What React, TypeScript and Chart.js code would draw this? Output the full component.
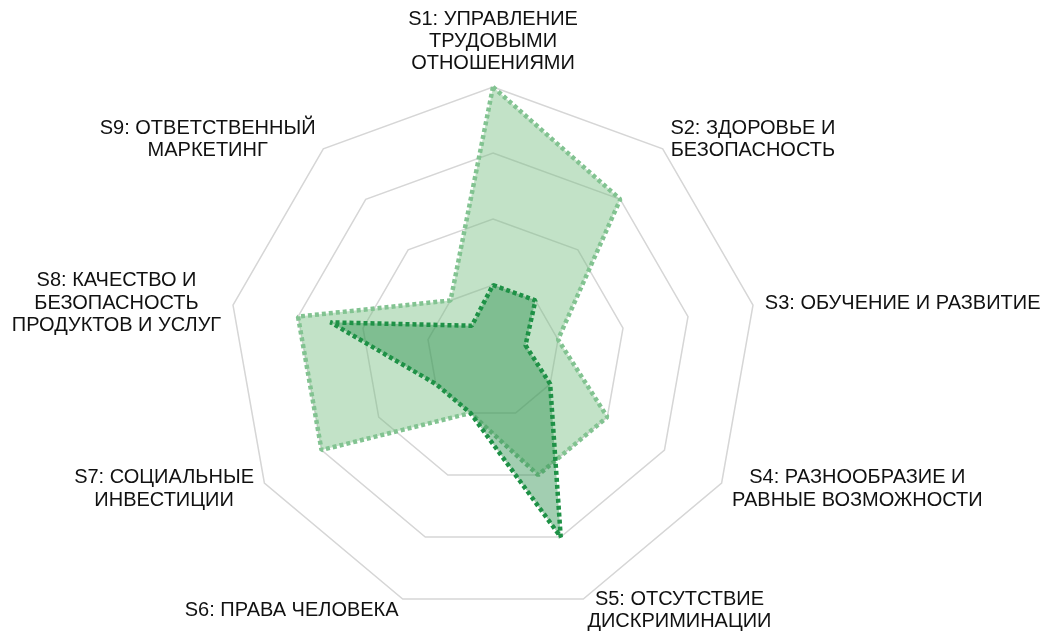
import React, { useEffect, useRef } from "react";
import { Chart, registerables } from "chart.js";

Chart.register(...registerables);

const categories: string[][] = [
  ["S1: УПРАВЛЕНИЕ", "ТРУДОВЫМИ", "ОТНОШЕНИЯМИ"],
  ["S2: ЗДОРОВЬЕ И", "БЕЗОПАСНОСТЬ"],
  ["S3: ОБУЧЕНИЕ И РАЗВИТИЕ"],
  ["S4: РАЗНООБРАЗИЕ И", "РАВНЫЕ ВОЗМОЖНОСТИ"],
  ["S5: ОТСУТСТВИЕ", "ДИСКРИМИНАЦИИ"],
  ["S6: ПРАВА ЧЕЛОВЕКА"],
  ["S7: СОЦИАЛЬНЫЕ", "ИНВЕСТИЦИИ"],
  ["S8: КАЧЕСТВО И", "БЕЗОПАСНОСТЬ", "ПРОДУКТОВ И УСЛУГ"],
  ["S9: ОТВЕТСТВЕННЫЙ", "МАРКЕТИНГ"],
];

const seriesLight: number[] = [4, 3, 1, 2, 2, 1, 3, 3, 1];
const seriesDark: number[] = [1, 1, 0.5, 1, 3, 1, 1, 2.5, 0.5];

const scaleMax = 4;
const scaleStep = 1;

const LABEL_FONT_SIZE = 20;
const LABEL_LINE_HEIGHT = 22.4;
const LABEL_GAP = 12;

const centeredLabels = {
  id: "centeredLabels",
  afterDraw(chart: any) {
    const scale = chart.scales.r;
    const ctx = chart.ctx as CanvasRenderingContext2D;
    const labels = chart.data.labels as (string | string[])[];
    ctx.save();
    ctx.font = `${LABEL_FONT_SIZE}px "Liberation Sans", Arial, sans-serif`;
    ctx.fillStyle = "#111111";
    ctx.textBaseline = "middle";
    ctx.textAlign = "center";
    labels.forEach((lab, i) => {
      const lines = Array.isArray(lab) ? lab : [lab];
      const pos = scale.getPointPosition(i, scale.drawingArea + LABEL_GAP);
      const cos = Math.cos(pos.angle);
      const sin = Math.sin(pos.angle);
      const w = Math.max(...lines.map((l) => ctx.measureText(l).width));
      const h = lines.length * LABEL_LINE_HEIGHT;
      let cx: number;
      let cy: number;
      if (Math.abs(cos) < 0.05) {
        cx = pos.x;
        cy = sin < 0 ? pos.y - h / 2 : pos.y + h / 2;
      } else {
        cx = cos > 0 ? pos.x + w / 2 : pos.x - w / 2;
        cy = pos.y;
      }
      lines.forEach((l, j) => {
        ctx.fillText(l, cx, cy - h / 2 + LABEL_LINE_HEIGHT * (j + 0.5));
      });
    });
    ctx.restore();
  },
};

export default function App() {
  const ref = useRef<HTMLCanvasElement | null>(null);

  useEffect(() => {
    document.body.style.margin = "0";
    if (!ref.current) return;
    const chart = new Chart(ref.current, {
      type: "radar",
      data: {
        labels: categories,
        datasets: [
          {
            label: "B",
            data: seriesDark,
            borderColor: "rgb(30,145,70)",
            backgroundColor: "rgba(34,139,69,0.42)",
            borderWidth: 4.5,
            borderDash: [4, 3],
            pointRadius: 0,
            pointHoverRadius: 0,
            fill: true,
          },
          {
            label: "A",
            data: seriesLight,
            borderColor: "rgb(130,195,145)",
            backgroundColor: "rgba(120,190,130,0.45)",
            borderWidth: 4.5,
            borderDash: [4, 3],
            pointRadius: 0,
            pointHoverRadius: 0,
            fill: true,
          },
        ],
      },
      options: {
        animation: false,
        responsive: false,
        maintainAspectRatio: false,
        layout: { padding: { top: 87, bottom: 22, left: 0, right: 61 } },
        plugins: {
          legend: { display: false },
          tooltip: { enabled: false },
        },
        elements: { line: { tension: 0, borderJoinStyle: "bevel" } },
        scales: {
          r: {
            min: 0,
            max: scaleMax,
            ticks: { display: false, stepSize: scaleStep },
            angleLines: { display: false },
            grid: { color: "#d6d6d6", lineWidth: 1.5 },
            pointLabels: { display: false },
          },
        },
      },
      plugins: [centeredLabels],
    });
    return () => chart.destroy();
  }, []);

  return (
    <div style={{ width: 1047, height: 637 }}>
      <canvas ref={ref} width={1047} height={637} style={{ display: "block" }} />
    </div>
  );
}
